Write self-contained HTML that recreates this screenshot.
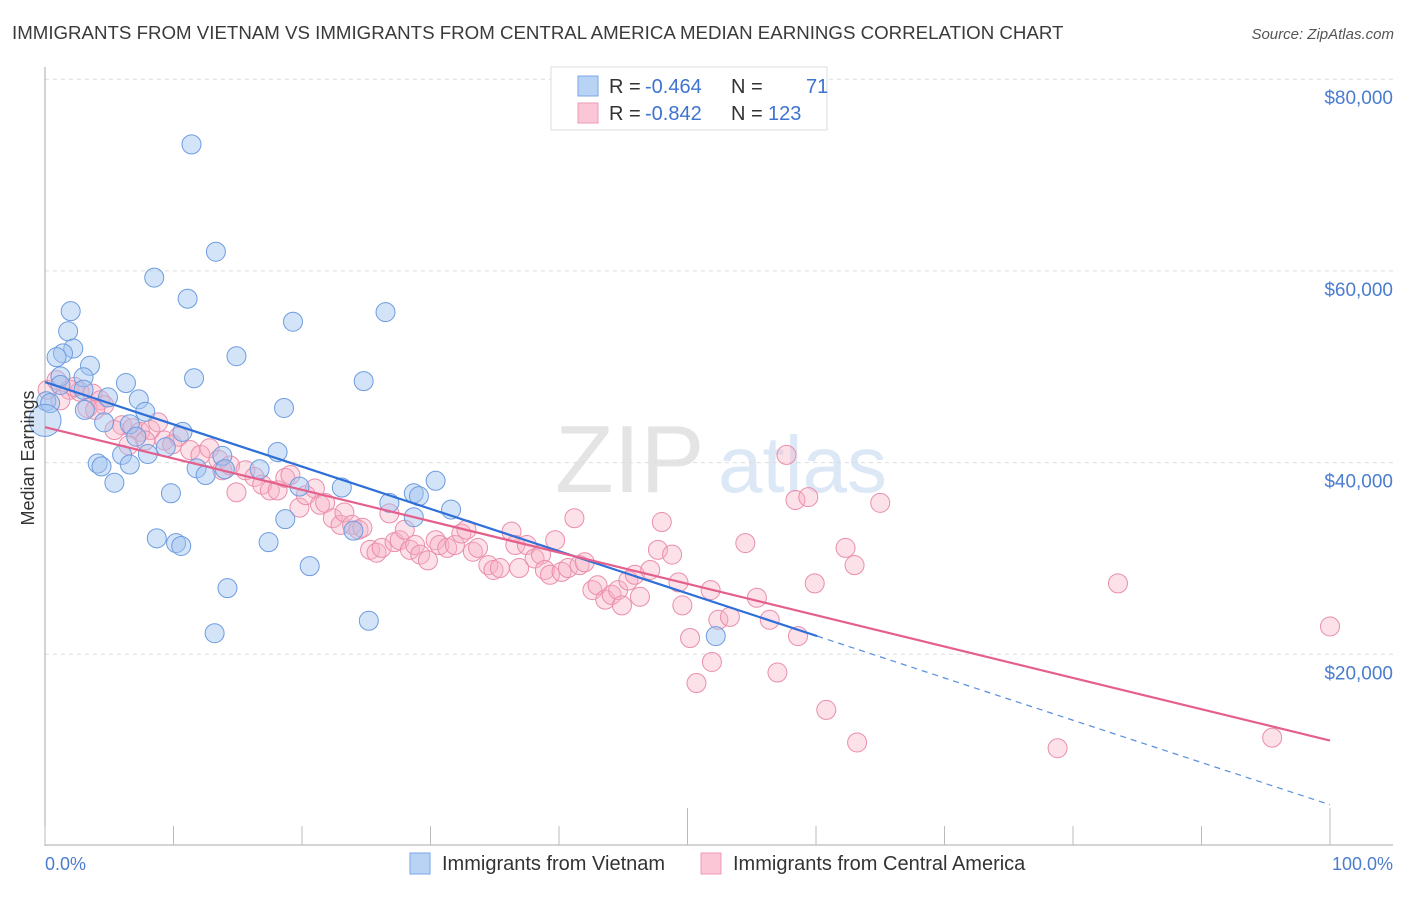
<!DOCTYPE html>
<html><head><meta charset="utf-8"><style>
body{margin:0;background:#fff;font-family:"Liberation Sans",sans-serif;}
svg text{font-family:"Liberation Sans",sans-serif;}
</style></head><body>
<svg id="chart" width="1406" height="892" xmlns="http://www.w3.org/2000/svg">
<text x="12" y="39" font-size="18.7" fill="#3a3a3a">IMMIGRANTS FROM VIETNAM VS IMMIGRANTS FROM CENTRAL AMERICA MEDIAN EARNINGS CORRELATION CHART</text>
<text x="1394" y="39" font-size="15" fill="#555" font-style="italic" text-anchor="end">Source: ZipAtlas.com</text>
<g>
<text x="555" y="492" font-size="96" fill="#e4e4e4" font-family="Liberation Serif,serif">ZIP</text>
<text x="718" y="492" font-size="80" fill="#dde8f6">atlas</text>
</g>
<g id="grid"></g>
<g id="axes"></g>
<g id="pts"></g>
<g id="trend"></g>
<g>
<rect x="551" y="67" width="276" height="63" fill="#fff" stroke="#ddd"/>
<rect x="578" y="76" width="20" height="20" fill="#b9d3f5" stroke="#7aa5e6"/>
<rect x="578" y="103" width="20" height="20" fill="#fbc6d5" stroke="#ec9bb4"/>
<text x="609" y="93" font-size="20" fill="#333">R = <tspan fill="#3f73d0" x="645">-0.464</tspan><tspan x="731">N =</tspan><tspan fill="#3f73d0" x="806">71</tspan></text>
<text x="609" y="120" font-size="20" fill="#333">R = <tspan fill="#3f73d0" x="645">-0.842</tspan><tspan x="731">N =</tspan><tspan fill="#3f73d0" x="768">123</tspan></text>
</g>
<text transform="translate(34,458) rotate(-90)" font-size="18" fill="#333" text-anchor="middle">Median Earnings</text>
<text x="45" y="870" font-size="18" fill="#4a7dd0">0.0%</text>
<text x="1393" y="870" font-size="18" fill="#4a7dd0" text-anchor="end">100.0%</text>
<g>
<rect x="410" y="853" width="20" height="21" fill="#b9d3f5" stroke="#7aa5e6"/>
<text x="442" y="870" font-size="20" fill="#333">Immigrants from Vietnam</text></g>
<g>
<rect x="701" y="853" width="20" height="21" fill="#fbc6d5" stroke="#ec9bb4"/>
<text x="733" y="870" font-size="20" fill="#333">Immigrants from Central America</text></g>
</svg>
<script>
const yTicks=[20000,40000,60000,80000];
const yTickLabels=["$20,000","$40,000","$60,000","$80,000"];
const xTicks=[0,10,20,30,40,50,60,70,80,90,100];
const blueX=[11.4,13.3,8.5,11.1,2.0,19.3,26.5,1.8,2.2,1.4,0.9,14.9,3.5,1.2,3.0,11.6,6.3,24.8,3.0,0.1,4.9,7.3,18.6,7.8,3.1,4.6,6.6,10.7,9.4,18.1,6.0,8.0,4.1,4.4,6.6,13.8,11.8,14.0,16.7,12.5,30.4,5.4,19.8,23.1,9.8,28.7,29.1,26.8,31.6,28.7,18.7,24.0,8.7,10.2,10.6,17.4,20.6,14.2,13.2,25.2,52.2,0.4,7.1,1.2];
const blueY=[73200,62000,59300,57100,55800,54700,55700,53700,51900,51400,51000,51100,50100,49000,48900,48800,48300,48500,47600,46400,46800,46600,45700,45300,45500,44200,44000,43200,41600,41100,40800,40900,39900,39600,39800,40700,39400,39300,39300,38700,38100,37900,37500,37400,36800,36800,36500,35800,35100,34300,34100,32900,32100,31600,31300,31700,29200,26900,22200,23500,21900,46200,42700,48100];
const pinkX=[0.2,0.9,1.9,2.7,3.7,4.3,3.3,4.6,3.9,6.0,6.8,7.4,8.2,8.8,9.3,9.9,10.4,11.3,12.1,12.8,13.5,13.8,14.4,14.9,15.6,16.3,16.9,17.5,18.1,18.7,19.1,19.8,20.3,21.0,21.4,21.8,22.4,23.0,23.3,23.9,24.4,24.7,25.3,25.8,26.2,26.8,27.2,27.6,28.0,28.4,28.8,29.2,29.8,30.4,30.7,31.3,31.9,32.4,32.8,33.3,33.7,34.5,34.9,35.4,36.3,36.6,36.9,37.5,38.1,38.6,38.9,39.3,39.7,40.2,40.7,41.2,41.6,42.0,42.6,43.0,43.6,44.1,44.6,44.9,45.4,45.9,46.3,47.1,47.7,48.0,48.8,49.3,49.6,50.2,50.7,51.8,51.9,52.4,53.3,54.5,55.4,56.4,57.0,57.7,58.4,59.4,59.9,58.6,60.8,62.3,63.0,63.2,65.0,78.8,83.5,95.5,100.0,1.2,2.3,5.4,6.5,7.8];
const pinkY=[47600,48600,47600,47400,47200,46500,45700,46000,45500,43900,43600,43200,43400,44200,42300,41900,42700,41300,40800,41500,40300,39200,39700,36900,39200,38500,37700,37100,37100,38400,38700,35300,36600,37300,35600,35800,34200,33500,34800,33500,33000,33200,30900,30600,31100,34700,31700,31900,33000,30900,31400,30400,29800,31900,31400,31100,31400,32600,33000,30700,31100,29300,28800,29000,32800,31400,29000,31400,30000,30400,28800,28300,31900,28600,29000,34200,29300,29600,26700,27200,25700,26200,26700,25100,27700,28300,26000,28800,30900,33800,30400,27500,25100,21700,17000,26700,19200,23600,23900,31600,25900,23600,18100,40800,36100,36400,27400,21900,14200,31100,29300,10800,35800,10200,27400,11300,22900,46500,47900,43400,41800,42300];
const blueTrend=[48400,4300];
const blueSolidEnd=60.1;
const pinkTrend=[43700,11000];
const NS="http://www.w3.org/2000/svg";
const X=p=>45+p*12.85;
const Y=v=>846-v*0.009585;
function mk(tag,attrs,parent){const e=document.createElementNS(NS,tag);for(const k in attrs)e.setAttribute(k,attrs[k]);parent.appendChild(e);return e;}
const grid=document.getElementById('grid'),axes=document.getElementById('axes');
yTicks.forEach((t,i)=>{
 const l=mk('line',{x1:45,x2:1393,y1:Y(t),y2:Y(t),stroke:'#ddd','stroke-dasharray':'4,4'},grid);
 
 
 const tx=mk('text',{x:1393,y:Y(t)+25,'font-size':19,fill:'#4a7dd0','text-anchor':'end'},axes);
 tx.textContent=yTickLabels[i];
 
 
});
mk('line',{x1:45,x2:45,y1:67,y2:846,stroke:'#aaa'},axes);
mk('line',{x1:45,x2:1393,y1:845,y2:845,stroke:'#aaa'},axes);
xTicks.forEach(t=>{
 const tk=mk('line',{x1:X(t),x2:X(t),y1:(t===50||t===100)?808:826,y2:845,stroke:'#bbb'},axes);
 
 
});
const pts=document.getElementById('pts');
pinkX.forEach((x,i)=>{
 const c=mk('circle',{cx:X(x),cy:Y(pinkY[i]),r:9.5,fill:'rgba(248,175,198,0.38)',stroke:'#ea8eab','stroke-width':1},pts);
 
 
});
blueX.forEach((x,i)=>{
 const c=mk('circle',{cx:X(x),cy:Y(blueY[i]),r:9.5,fill:'rgba(160,195,240,0.45)',stroke:'#6d9ce0','stroke-width':1},pts);
 
 
});
const big=mk('circle',{cx:X(0),cy:Y(44400),r:16,fill:'rgba(160,195,240,0.45)',stroke:'#6d9ce0'},pts);


const tr=document.getElementById('trend');
const bAt=p=>blueTrend[0]+(blueTrend[1]-blueTrend[0])*p/100;
const pAt=p=>pinkTrend[0]+(pinkTrend[1]-pinkTrend[0])*p/100;
const l1=mk('line',{x1:X(0),y1:Y(bAt(0)),x2:X(blueSolidEnd),y2:Y(bAt(blueSolidEnd)),stroke:'#2e6fd8','stroke-width':2.2},tr);


const l2=mk('line',{x1:X(blueSolidEnd),y1:Y(bAt(blueSolidEnd)),x2:X(100),y2:Y(bAt(100)),stroke:'#5a8fe0','stroke-width':1.2,'stroke-dasharray':'6,5'},tr);


const l3=mk('line',{x1:X(0),y1:Y(pAt(0)),x2:X(100),y2:Y(pAt(100)),stroke:'#e55f8c','stroke-width':2.2},tr);


</script>
</body></html>
